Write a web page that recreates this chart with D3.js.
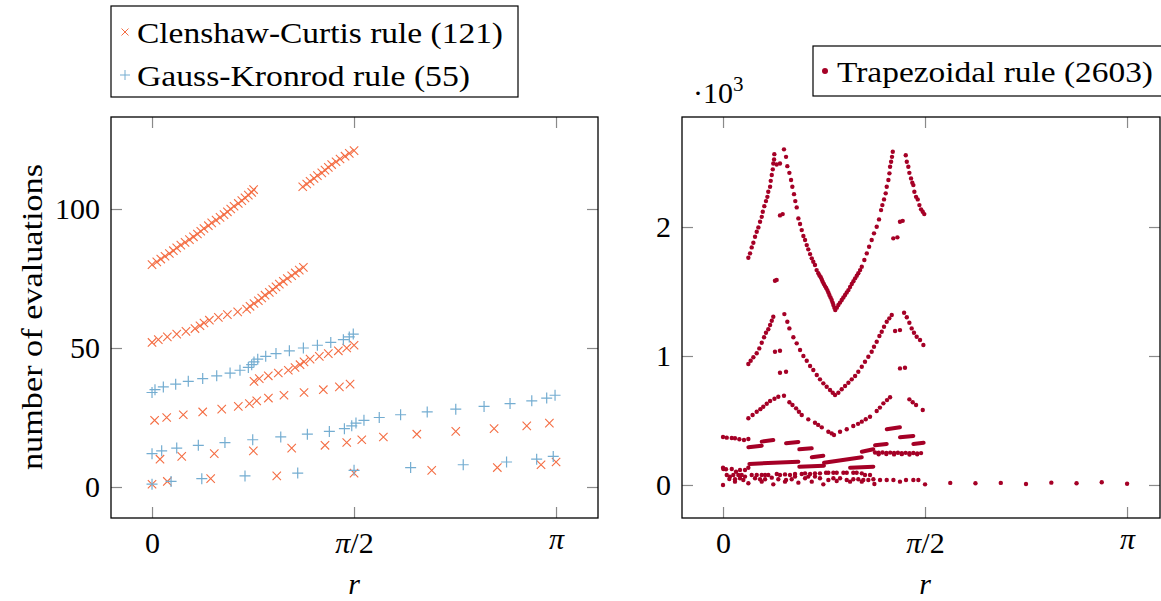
<!DOCTYPE html>
<html><head><meta charset="utf-8">
<script src="https://cdn.jsdelivr.net/npm/d3@7"></script>
<style>
body{margin:0;background:#fff}
svg{display:block}
svg text{font-family:"Liberation Serif","Times New Roman",Tinos,"DejaVu Serif","Noto Serif",FreeSerif,serif !important;fill:#000}
</style>
</head><body>
<svg id="c" width="1161" height="601"></svg>
<script>
const PI = Math.PI;
// ---------- tick labels ----------
const xTickValues = [0, PI/2, PI];
const xTickLabels = ["0", "π/2", "π"];
const yTickLeft = [0, 50, 100];
const yTickRight = [0, 1000, 2000];
const yTickRightLabels = ["0", "1", "2"];

// ---------- Clenshaw-Curtis [r, evaluations] ----------
const ccA = [[0,80],[0.037,81],[0.068,82],[0.101,83],[0.135,84],[0.166,85],[0.192,86],[0.224,87],[0.257,88],[0.291,89],[0.322,90],[0.353,91],[0.379,92],[0.404,93],[0.438,94],[0.464,95],[0.498,96],[0.529,97],[0.560,98],[0.586,99],[0.612,100],[0.638,101],[0.671,102],[0.698,103],[0.723,104],[0.749,105],[0.775,106],[0.790,107]];
const ccB = [[1.172,108],[1.203,109],[1.229,110],[1.260,111],[1.286,112],[1.320,113],[1.345,114],[1.371,115],[1.397,116],[1.431,117],[1.462,118],[1.501,119],[1.534,120],[1.571,121]];
const ccC = [[0,52],[0.049,53],[0.119,54],[0.192,55],[0.264,56],[0.334,57],[0.373,58],[0.404,59],[0.446,60],[0.516,61],[0.586,62],[0.666,63],[0.736,64],[0.762,65],[0.793,66],[0.827,67],[0.853,68],[0.879,69],[0.912,70],[0.939,71],[0.964,72],[0.990,73],[1.021,74],[1.052,75],[1.086,76],[1.114,77],[1.145,78],[1.177,79]];
const ccD = [[0.793,38],[0.834,39],[0.904,40],[0.982,41],[1.060,42],[1.112,43],[1.151,44],[1.182,45],[1.229,46],[1.301,47],[1.371,48],[1.449,49],[1.514,50],[1.571,51]];
const ccE = [[0.020,24],[0.114,25],[0.243,26],[0.394,27],[0.542,28],[0.671,29],[0.757,30],[0.814,31],[0.905,32],[1.026,33],[1.182,34],[1.332,35],[1.457,36],[1.540,37]];
const ccF = [[0.062,10],[0.231,11],[0.484,12],[0.788,13],[1.086,14],[1.345,15],[1.514,16],[1.631,17],[1.799,18],[2.059,19],[2.362,20],[2.660,21],[2.914,22],[3.090,23]];
const ccG = [[0,1],[0.119,2],[0.456,3],[0.970,4],[1.571,5],[2.175,6],[2.685,7],[3.025,8],[3.142,9]];

// ---------- Gauss-Kronrod [r, evaluations] ----------
const gkA = [[0,34],[0.023,35],[0.088,36],[0.184,37],[0.282,38],[0.394,39],[0.503,40],[0.607,41],[0.684,42],[0.749,43],[0.775,44],[0.793,45],[0.822,46],[0.884,47],[0.964,48],[1.068,49],[1.177,50],[1.286,51],[1.390,52],[1.488,53],[1.534,54],[1.565,55]];
const gkB = [[0,12],[0.075,13],[0.192,14],[0.360,15],[0.567,16],[0.783,17],[1.001,18],[1.208,19],[1.379,20],[1.496,21],[1.553,22],[1.586,23],[1.648,24],[1.767,25],[1.933,26],[2.140,27],[2.362,28],[2.582,29],[2.784,30],[2.953,31],[3.069,32],[3.134,33]];
const gkC = [[0,1],[0.148,2],[0.387,3],[0.723,4],[1.133,5],[1.571,6],[2.011,7],[2.420,8],[2.757,9],[2.991,10],[3.120,11]];

// ---------- Trapezoidal [r, evaluations] ----------
const trapTopLeft = [[.197,1762],[.210,1796],[.223,1842],[.236,1878],[.249,1924],[.262,1963],[.275,1997],[.288,2041],[.301,2079],[.309,2118],[.321,2162],[.334,2201],[.345,2234],[.352,2273],[.366,2312],[.371,2358],[.379,2403],[.387,2447],[.391,2493],[.397,2524],[.399,2565]];
const trapTopDown = [[.474,2602],[.490,2544],[.500,2472],[.516,2420],[.529,2364],[.539,2312],[.552,2255],[.562,2201],[.573,2152],[.586,2067],[.599,2023],[.612,1976],[.625,1930],[.638,1899],[.651,1860],[.663,1827],[.677,1790],[.690,1757],[.702,1731],[.715,1705],[.728,1666],[.741,1641],[.750,1625],[.760,1610],[.768,1593],[.775,1576],[.784,1559],[.793,1542],[.802,1527],[.811,1511],[.819,1492],[.827,1473],[.836,1453],[.845,1434],[.852,1414],[.858,1395],[.866,1375],[.873,1356]];
const trapTopUp = [[.885,1375],[.897,1395],[.910,1414],[.923,1434],[.936,1453],[.949,1473],[.962,1492],[.975,1511],[.988,1535],[1.001,1558],[1.014,1580],[1.027,1602],[1.040,1622],[1.052,1641],[1.066,1666],[1.079,1692],[1.099,1744],[1.118,1796],[1.136,1847],[1.156,1899],[1.174,1951],[1.195,2002],[1.213,2059],[1.229,2131],[1.239,2170],[1.252,2214],[1.265,2261],[1.273,2312],[1.286,2364],[1.294,2416],[1.299,2467],[1.307,2506],[1.314,2544],[1.320,2583]];
const trapTopFar = [[1.421,2557],[1.429,2506],[1.441,2467],[1.449,2420],[1.462,2377],[1.472,2343],[1.480,2325],[1.488,2273],[1.501,2234],[1.514,2214],[1.527,2170],[1.540,2137],[1.553,2118],[1.565,2100]];
const trapTopIso = [[.417,2485],[.443,2493],[.443,2090],[.464,2100],[.404,1583],[.417,1590],[1.324,1912],[1.356,1920],[1.376,2041],[1.397,2048]];

const trapMidLeft = [[.197,938],[.215,963],[.236,990],[.262,1021],[.282,1059],[.301,1103],[.319,1145],[.334,1180],[.352,1207],[.366,1240],[.379,1273],[.391,1304],[.477,1325]];
const trapMidDown = [[.500,1266],[.516,1214],[.547,1145],[.573,1098],[.599,1046],[.625,1000],[.651,963],[.677,922],[.702,891],[.729,853],[.754,819],[.780,788],[.806,762],[.832,736],[.853,715],[.871,698]];
const trapMidUp = [[.897,715],[.923,742],[.949,767],[.975,793],[1.001,819],[1.027,845],[1.052,878],[1.079,917],[1.104,956],[1.130,994],[1.156,1033],[1.174,1072],[1.195,1111],[1.216,1155],[1.234,1188],[1.252,1227],[1.273,1266],[1.293,1292],[1.312,1318]];
const trapMidFar = [[1.408,1335],[1.429,1300],[1.449,1258],[1.467,1214],[1.485,1180],[1.506,1149],[1.532,1124],[1.558,1085]];
const trapMidIso = [[.404,1033],[.443,1041],[.443,870],[.490,878],[1.338,1194],[1.376,1201],[1.376,904],[1.415,909]];

const trapLow = [[.197,517],[.230,543],[.262,568],[.290,588],[.313,607],[.340,630],[.366,651],[.400,668],[.430,684],[.474,692],[.516,641],[.540,620],[.568,594],[.590,568],[.612,543],[.663,509],[.715,483],[.740,466],[.768,447],[.819,413],[.845,400],[.863,388],[.910,413],[.962,432],[1.013,457],[1.050,474],[1.079,491],[1.110,510],[1.143,529],[1.195,574],[1.220,600],[1.247,633],[1.275,658],[1.299,680],[1.449,664],[1.475,642],[1.501,620],[1.553,581]];

// horizontal runs of overlapping dots: [[r0,n0],[r1,n1]]
const trapRuns = [
 [[.197,292],[.301,305]], [[.301,336],[.391,349]], [[.490,323],[.586,333]], [[.593,277],[.690,284]],
 [[.690,215],[.780,227]], [[.785,173],[1.079,215]], [[1.079,258],[1.169,277]], [[1.182,308],[1.273,318]],
 [[1.273,432],[1.376,447]], [[1.376,370],[1.480,380]], [[1.480,318],[1.560,328]],
 [[.205,163],[.586,181]], [[.593,142],[.785,150]], [[.988,134],[1.169,142]]
];
const trapRow370 = [[0,372],[.029,367],[.068,364],[.093,362],[.127,354],[.163,349],[.197,357]];
const trapRow250 = [[1.182,252],[1.21,250],[1.24,252],[1.27,249],[1.30,251],[1.33,248],[1.36,250],[1.39,247],[1.42,249],[1.45,246],[1.48,248],[1.51,245],[1.54,247],[1.21,238],[1.27,240],[1.33,237],[1.39,239],[1.45,236],[1.51,238]];
const trapRow120 = [[0,134],[.003,124],[.023,122],[.068,124],[.101,103],[.132,116],[.171,116],[.197,134]];
const trapRow85 = [[.029,77],[.054,65],[.080,77],[.119,77],[.145,77],[.171,65],[.223,77],[.262,77],[.301,77],[.327,77],[.352,77],[.418,85],[.443,77],[.482,82],[.521,77],[.560,85],[.612,85],[.638,90],[.677,85],[.715,90],[.754,90],[.801,95],[.819,95],[.858,95],[.884,95],[.936,95],[.962,95],[1.013,95],[1.039,95],[1.079,90],[1.104,77],[1.143,77]];
const trapRow45 = [[.049,46],[.093,44],[.132,52],[.158,39],[.249,52],[.288,44],[.327,44],[.379,57],[.430,44],[.490,39],[.534,44],[.560,65],[.638,52],[.663,65],[.715,65],[.754,52],[.819,39],[.858,52],[.910,52],[.962,39],[1.013,44],[1.052,44],[1.091,39],[1.130,39],[1.169,44],[1.221,39],[1.273,39],[1.325,39],[1.376,26],[1.423,39],[1.480,39],[1.519,39]];
const trapRow15 = [[0,0],[.093,26],[.197,13],[.301,26],[.391,5],[.482,26],[.586,18],[.690,26],[.780,5],[.884,31],[.988,26],[1.079,26],[1.177,8],[1.571,5],[1.767,16],[1.963,13],[2.160,16],[2.356,8],[2.553,18],[2.749,13],[2.945,21],[3.142,10]];

const C_CC = "#f46d43", C_GK = "#74add1", C_TR = "#a50026";
const FONT = '"Liberation Serif","Times New Roman",Tinos,"DejaVu Serif","Noto Serif",FreeSerif,serif';

// ---------- layout ----------
const svg = d3.select("#c");
const L = {x0:111, x1:598, y0:117, y1:518};
const R = {x0:682, x1:1160, y0:117, y1:518};
const xL = d3.scaleLinear().domain([-0.319, 3.468]).range([L.x0, L.x1]);
const yL = d3.scaleLinear().domain([-11.15, 133.1]).range([L.y1, L.y0]);
const xR = d3.scaleLinear().domain([-0.319, 3.398]).range([R.x0, R.x1]);
const yR = d3.scaleLinear().domain([-256, 2853]).range([R.y1, R.y0]);
const FS = 30;

function frame(P, xs, ys, yTicks, yLabels){
  const g = svg.append("g");
  const tickStyle = sel => { sel.attr("font-family", FONT); sel.select(".domain").remove(); sel.selectAll(".tick line").attr("stroke","#8a8a8a").attr("stroke-width",1.2); };
  g.append("g").attr("transform",`translate(0,${P.y1})`)
    .call(d3.axisBottom(xs).tickValues(xTickValues).tickSize(-11).tickPadding(14).tickFormat((d,i)=>xTickLabels[i]))
    .call(tickStyle)
    .call(s=>s.selectAll("text").attr("font-size",FS).attr("fill","#000")
       .attr("dy", (d,i)=> i===2 ? "0.55em" : "0.71em"));
  g.append("g").attr("transform",`translate(0,${P.y0})`)
    .call(d3.axisTop(xs).tickValues(xTickValues).tickSize(-11).tickFormat("")).call(tickStyle);
  g.append("g").attr("transform",`translate(${P.x0},0)`)
    .call(d3.axisLeft(ys).tickValues(yTicks).tickSize(-11).tickPadding(11).tickFormat((d,i)=>yLabels[i]))
    .call(tickStyle)
    .call(s=>s.selectAll("text").attr("font-size",FS).attr("fill","#000"));
  g.append("g").attr("transform",`translate(${P.x1},0)`)
    .call(d3.axisRight(ys).tickValues(yTicks).tickSize(-11).tickFormat("")).call(tickStyle);
  g.append("rect").attr("x",P.x0).attr("y",P.y0).attr("width",P.x1-P.x0).attr("height",P.y1-P.y0)
    .attr("fill","none").attr("stroke","#000").attr("stroke-width",1.3);
  g.selectAll(".tick text").each(function(){
    const t = d3.select(this), s = t.text();
    if (s.includes("π")) {
      t.text(null);
      t.append("tspan").attr("font-style","italic").text("π");
      if (s.length>1) t.append("tspan").text(s.slice(1));
    }
  });
  return g;
}
frame(L, xL, yL, yTickLeft, yTickLeft.map(String));
frame(R, xR, yR, yTickRight, yTickRightLabels);

// ---------- marks ----------
const gL = svg.append("g");
const cross = (g, data, col) => g.selectAll(null).data(data).join("path")
  .attr("d", d => { const x = xL(d[0]), y = yL(d[1]), h = 4.2; return `M${x-h},${y-h}L${x+h},${y+h}M${x-h},${y+h}L${x+h},${y-h}`; })
  .attr("stroke", col).attr("stroke-width", 1.1).attr("fill","none");
const plus = (g, data, col) => g.selectAll(null).data(data).join("path")
  .attr("d", d => { const x = xL(d[0]), y = yL(d[1]), h = 5.5; return `M${x-h},${y}L${x+h},${y}M${x},${y-h}L${x},${y+h}`; })
  .attr("stroke", col).attr("stroke-width", 1.2).attr("fill","none");
[ccA, ccB, ccC, ccD, ccE, ccF, ccG].forEach(s => cross(gL.append("g"), s, C_CC));
[gkA, gkB, gkC].forEach(s => plus(gL.append("g"), s, C_GK));

const gR = svg.append("g");
const dotR = 2.2;
gR.selectAll(null).data(trapRuns).join("path")
  .attr("d", d => d3.line().x(p=>xR(p[0])).y(p=>yR(p[1]))(d))
  .attr("stroke", C_TR).attr("stroke-width", 4).attr("stroke-linecap","round").attr("fill","none");
[trapTopLeft, trapTopDown, trapTopUp, trapTopFar, trapTopIso, trapMidLeft, trapMidDown, trapMidUp, trapMidFar, trapMidIso,
 trapLow, trapRow370, trapRow250, trapRow120, trapRow85, trapRow45, trapRow15].forEach(s =>
  gR.append("g").selectAll("circle").data(s).join("circle")
    .attr("cx", d => xR(d[0])).attr("cy", d => yR(d[1])).attr("r", dotR).attr("fill", C_TR));

// ---------- axis labels ----------
const T = (sel) => sel.append("text").attr("font-family", FONT).attr("font-size", FS);
T(svg).attr("transform","translate(42,317) rotate(-90)").attr("text-anchor","middle")
  .attr("textLength",306).attr("lengthAdjust","spacingAndGlyphs").text("number of evaluations");
[354, 925].forEach(x => T(svg).attr("x",x).attr("y",594).attr("text-anchor","middle").attr("font-style","italic").text("r"));
const mult = T(svg).attr("x",693).attr("y",103);
mult.append("tspan").text("·10");
mult.append("tspan").attr("dy",-12).attr("font-size",21).text("3");

// ---------- legends ----------
svg.append("rect").attr("x",111).attr("y",6).attr("width",407).attr("height",91).attr("fill","#fff").attr("stroke","#000").attr("stroke-width",1.2);
svg.append("path").attr("d","M121.5,28.5L128.5,35.5M121.5,35.5L128.5,28.5").attr("stroke",C_CC).attr("stroke-width",1);
svg.append("path").attr("d","M120,75H130M125,70V80").attr("stroke",C_GK).attr("stroke-width",1);
T(svg).attr("x",137).attr("y",43).attr("textLength",366).attr("lengthAdjust","spacingAndGlyphs").text("Clenshaw-Curtis rule (121)");
T(svg).attr("x",137).attr("y",86).attr("textLength",333).attr("lengthAdjust","spacingAndGlyphs").text("Gauss-Kronrod rule (55)");
svg.append("rect").attr("x",813).attr("y",46).attr("width",360).attr("height",50).attr("fill","#fff").attr("stroke","#000").attr("stroke-width",1.2);
svg.append("circle").attr("cx",825).attr("cy",71).attr("r",3).attr("fill",C_TR);
T(svg).attr("x",837).attr("y",82).attr("textLength",316).attr("lengthAdjust","spacingAndGlyphs").text("Trapezoidal rule (2603)");
</script>
</body></html>
